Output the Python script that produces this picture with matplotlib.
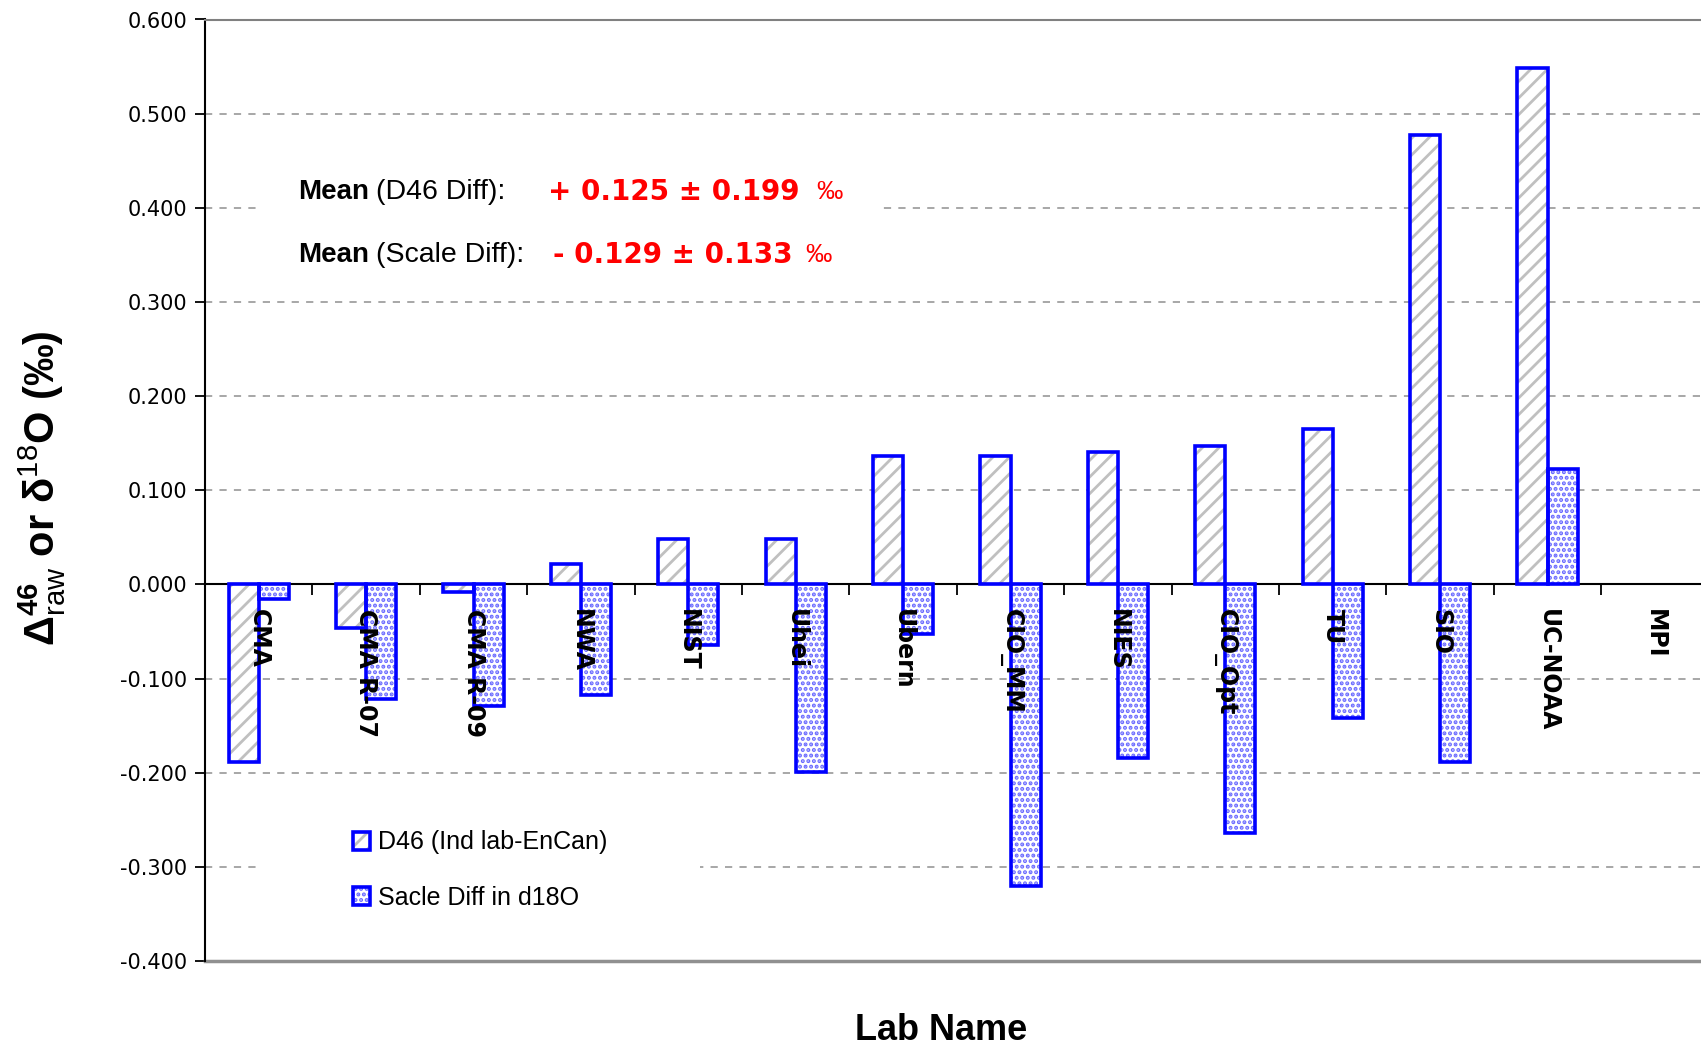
import numpy as np
import matplotlib
matplotlib.use('Agg')
import matplotlib.pyplot as plt
from matplotlib.patches import Rectangle, Patch

plt.rcParams['font.family'] = 'Liberation Sans'
plt.rcParams['mathtext.fontset'] = 'custom'
plt.rcParams['mathtext.rm'] = 'Liberation Sans'
plt.rcParams['mathtext.it'] = 'Liberation Sans:italic'
plt.rcParams['mathtext.bf'] = 'Liberation Sans:bold'
plt.rcParams['hatch.linewidth'] = 2.0

# Lab names and the two difference series (per mil)
labs = ['CMA', 'CMA R-07', 'CMA R-09', 'NWA', 'NIST', 'Uhei', 'Ubern',
        'CIO_MM', 'NIES', 'CIO_Opt', 'TU', 'SIO', 'UC-NOAA', 'MPI']
d46_diff = [-0.189, -0.046, -0.008, 0.022, 0.048, 0.048, 0.136,
            0.136, 0.141, 0.147, 0.165, 0.477, 0.548, np.nan]
scale_diff = [-0.016, -0.122, -0.129, -0.117, -0.064, -0.199, -0.053,
              -0.320, -0.184, -0.264, -0.142, -0.189, 0.123, np.nan]
yticks = [-0.4, -0.3, -0.2, -0.1, 0.0, 0.1, 0.2, 0.3, 0.4, 0.5, 0.6]

W, H = 1701, 1050
fig = plt.figure(figsize=(W / 100, H / 100), dpi=100)


def fx(px):
    return px / W


def fy(py):
    return 1 - py / H


left = 205
ax = fig.add_axes([fx(left), fy(961), fx(W - left), fy(19.5) - fy(961)])

x = np.arange(len(labs))
bw = 0.28
blue = '#0000ff'
dots = '#6a6aff'

# hatched layer first, then a blue outline on top
ax.bar(x - bw / 2, d46_diff, bw, color='white', edgecolor='#c0c0c0',
       hatch='//', linewidth=0, zorder=2)
ax.bar(x - bw / 2, d46_diff, bw, fill=False, edgecolor=blue,
       linewidth=2.6, zorder=3)
ax.bar(x + bw / 2, scale_diff, bw, color='white', edgecolor=dots,
       hatch='...', linewidth=0, zorder=2)
ax.bar(x + bw / 2, scale_diff, bw, fill=False, edgecolor=blue,
       linewidth=2.6, zorder=3)

ax.set_xlim(-0.5, -0.5 + (W - left) / 107.4)
ax.set_ylim(-0.4, 0.6)
ax.set_yticks(yticks)
ax.set_yticklabels(['%.3f' % v for v in yticks], fontsize=15,
                   family='DejaVu Sans')
ax.set_axisbelow(True)
ax.yaxis.grid(True, linestyle=(0, (4, 4)), color='#a0a0a0', linewidth=1.3)

# category axis sits on the zero line
ax.spines['bottom'].set_position(('data', 0))
ax.spines['bottom'].set_linewidth(1.5)
ax.spines['left'].set_linewidth(1.5)
ax.spines['right'].set_visible(False)
ax.spines['top'].set_color('#808080')
ax.spines['top'].set_linewidth(1.5)
ax.axhline(-0.4, color='#909090', linewidth=2.5, zorder=1, clip_on=False)
ax.set_xticks(x[:-1] + 0.5)
ax.set_xticklabels([])
ax.tick_params(axis='x', direction='out', length=8, width=1.3)
ax.tick_params(axis='y', direction='out', length=7, width=1.3, pad=6)

for i, name in enumerate(labs):
    ax.annotate(name, (i, 0), xytext=(0, -18), textcoords='offset points',
                rotation=-90, ha='center', va='top', fontsize=17,
                fontweight='bold', family='DejaVu Sans', zorder=4)

# white boxes behind the annotation and the legend
ax.add_patch(Rectangle((fx(262), fy(290)), fx(878 - 262), fy(140) - fy(290),
                       transform=fig.transFigure, facecolor='white',
                       edgecolor='none', zorder=1, clip_on=False))
ax.add_patch(Rectangle((fx(258), fy(940)), fx(700 - 258), fy(800) - fy(940),
                       transform=fig.transFigure, facecolor='white',
                       edgecolor='none', zorder=1, clip_on=False))

h1 = (Patch(facecolor='white', edgecolor='#c0c0c0', hatch='//', linewidth=0),
      Patch(fill=False, edgecolor=blue, linewidth=2.6))
h2 = (Patch(facecolor='white', edgecolor=dots, hatch='...', linewidth=0),
      Patch(fill=False, edgecolor=blue, linewidth=2.6))
leg = ax.legend([h1, h2], ['D46 (Ind lab-EnCan)', 'Sacle Diff in d18O'],
                loc='upper left', bbox_to_anchor=(fx(340), fy(818)),
                bbox_transform=fig.transFigure, frameon=False, fontsize=18,
                handlelength=0.7, handleheight=0.7, handletextpad=0.3,
                labelspacing=1.25, borderpad=0)
leg.set_zorder(5)

# mean values
for yy, label, val, xr, xp in [(192, '(D46 Diff):', '+ 0.125 \u00b1 0.199', 548, 816),
                               (255, '(Scale Diff):', '- 0.129 \u00b1 0.133', 553, 805)]:
    fig.text(fx(298), fy(yy), 'Mean', fontsize=20, fontweight='bold',
             va='center', ha='left')
    fig.text(fx(376), fy(yy), label, fontsize=20.5, va='center', ha='left')
    fig.text(fx(xr), fy(yy), val, fontsize=20, fontweight='bold',
             color='red', va='center', ha='left', family='DejaVu Sans')
    fig.text(fx(xp), fy(yy), '\u2030', fontsize=19, color='red',
             va='center', ha='left')

fig.text(fx(42), fy(488), r'Δ$^{\mathbf{46}}_{\mathrm{raw}}$ or δ$^{18}$O (‰)',
         rotation=90, fontsize=30, fontweight='bold', ha='center', va='center')
fig.text(fx(941), fy(1031), 'Lab Name', fontsize=26, fontweight='bold',
         ha='center', va='center')

plt.savefig('out.png', dpi=100)
